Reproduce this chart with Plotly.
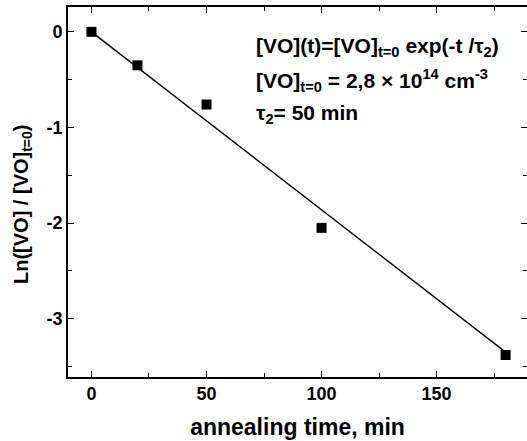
import plotly.graph_objects as go

# data
time_min = [0, 20, 50, 100, 180]
ln_ratio = [0.0, -0.35, -0.76, -2.05, -3.38]
fit_time = [0, 180]
fit_ln = [0.0, -3.35]
x_ticks = [0, 50, 100, 150]
y_ticks = [0, -1, -2, -3]
y_tick_text = ["0", "-1", "-2", "-3"]

FONT = "Liberation Sans"

fig = go.Figure()
fig.add_trace(go.Scatter(x=fit_time, y=fit_ln, mode="lines",
                         line=dict(color="black", width=1.4), showlegend=False))
fig.add_trace(go.Scatter(x=time_min, y=ln_ratio, mode="markers",
                         marker=dict(symbol="square", size=10, color="black"),
                         showlegend=False))

XR = [-10.2, 189.3]
YR = [-3.61, 0.26]

tickfont = dict(family=FONT, size=18, color="black", weight="bold")
xtitlefont = dict(family=FONT, size=23, color="black", weight="bold")
ytitlefont = dict(family=FONT, size=20, color="black", weight="bold")

fig.update_layout(
    width=527, height=441,
    margin=dict(l=68, r=0, t=7, b=64),
    plot_bgcolor="white", paper_bgcolor="white",
    xaxis=dict(range=XR, tickvals=x_ticks, ticks="inside", ticklen=6, tickwidth=1.2,
               tickcolor="black", showline=True, linecolor="black", linewidth=1.6,
               mirror="ticks", showgrid=False, zeroline=False, tickfont=tickfont,
               minor=dict(dtick=25, tick0=0, ticks="inside", ticklen=4, tickwidth=1.2,
                          tickcolor="black", showgrid=False),
               title=dict(text="annealing time, min", font=xtitlefont, standoff=15)),
    yaxis=dict(range=YR, tickvals=y_ticks, ticktext=y_tick_text, ticks="inside",
               ticklen=6, tickwidth=1.2,
               tickcolor="black", showline=True, linecolor="black", linewidth=1.6,
               mirror=False, showgrid=False, zeroline=False, tickfont=tickfont,
               minor=dict(dtick=0.5, tick0=0, ticks="inside", ticklen=4, tickwidth=1.2,
                          tickcolor="black", showgrid=False)),
    yaxis2=dict(range=YR, overlaying="y", side="right", anchor="x", tickvals=y_ticks,
                ticks="inside", ticklen=6, tickwidth=1.2, tickcolor="black",
                showticklabels=False, showline=False, showgrid=False, zeroline=False,
                minor=dict(dtick=0.5, tick0=0, ticks="inside", ticklen=4, tickwidth=1.2,
                           tickcolor="black", showgrid=False)),
)
fig.add_trace(go.Scatter(x=[None], y=[None], yaxis="y2", showlegend=False))

# y-axis title as rotated annotation
fig.add_annotation(text="Ln([VO] / [VO]<sub>t=0</sub>)", textangle=-90,
                   xref="paper", yref="paper", x=(22 - 68) / (527 - 68),
                   y=1 - (204 - 7) / (377 - 7), xanchor="center", yanchor="middle",
                   showarrow=False, font=ytitlefont)

ann_font = dict(family=FONT, size=21, color="black", weight="bold")
lines = [
    "[VO](t)=[VO]<sub>t=0</sub> exp(-t /τ<sub>2</sub>)",
    "[VO]<sub>t=0</sub> = 2,8 × 10<sup>14</sup> cm<sup>-3</sup>",
    "τ<sub>2</sub>= 50 min",
]
ys = [47, 80, 114]
for t, yp in zip(lines, ys):
    fig.add_annotation(text=t, xref="paper", yref="paper", x=(254 - 68) / (527 - 68),
                       y=1 - (yp - 7) / (377 - 7), xanchor="left", yanchor="middle",
                       showarrow=False, font=ann_font)

fig.write_html("out.html")
